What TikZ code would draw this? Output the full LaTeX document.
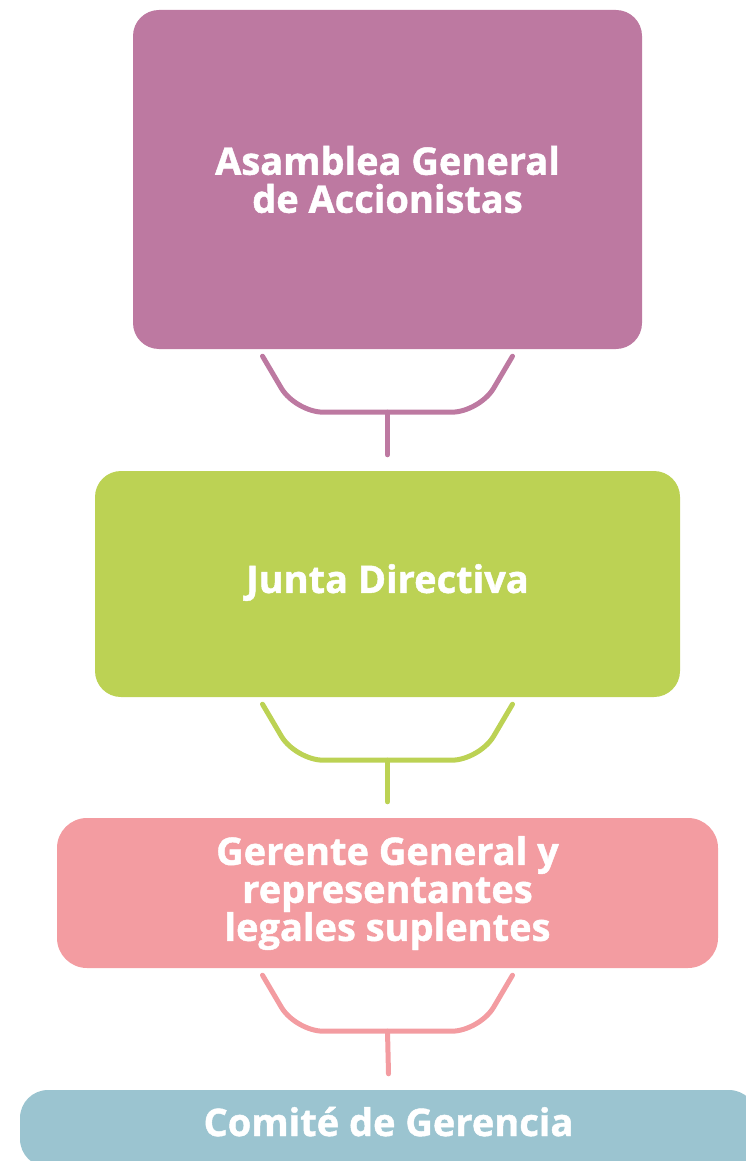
\documentclass[tikz,border=0pt]{standalone}
\usepackage{fontspec}
\setmainfont{Open Sans}[BoldFeatures={FakeBold=1.2}]
\definecolor{cpurple}{HTML}{BD79A1}
\definecolor{cgreen}{HTML}{BCD254}
\definecolor{cpink}{HTML}{F39CA1}
\definecolor{cblue}{HTML}{9BC4D0}
\begin{document}
\begin{tikzpicture}[
    x=1pt, y=-1pt,
    box/.style = {fill=#1, rounded corners=26pt, inner sep=0pt, text=white,
      font=\bfseries\fontsize{38}{38}\selectfont, align=center},
    link/.style = {draw=#1, line width=5pt, line cap=round, rounded corners=28pt}
  ]
    \useasboundingbox (0,0) rectangle (745,1161);
    \node[box=cpurple, minimum width=509pt, minimum height=339pt] (asamblea) at (387.5,179.5) {Asamblea General\\de Accionistas};
    \node[box=cgreen, minimum width=585pt, minimum height=226pt, text depth=11pt] (junta) at (387.5,584) {Junta Directiva};
    \node[box=cpink, minimum width=661pt, minimum height=150pt, rounded corners=30pt] (gerente) at (387.5,893) {Gerente General y\\representantes\\legales suplentes};
    \node[box=cblue, minimum width=737pt, minimum height=77pt, rounded corners=28pt, text height=26pt, text depth=11pt] (comite) at (388.5,1128.5) {Comité de Gerencia};
    % brackets between levels
    \foreach \a/\b/\c in {asamblea/junta/cpurple, junta/gerente/cgreen, gerente/comite/cpink} {
      \draw[link=\c] ([xshift=-125pt,yshift=-7pt]\a.south) -- ++(33,56) -- ++(184,0) -- ++(33,-56);
      \draw[link=\c, rounded corners=0pt] ([yshift=-63pt]\a.south) -- ([yshift=16pt]\b.north);
    }
\end{tikzpicture}
\end{document}
